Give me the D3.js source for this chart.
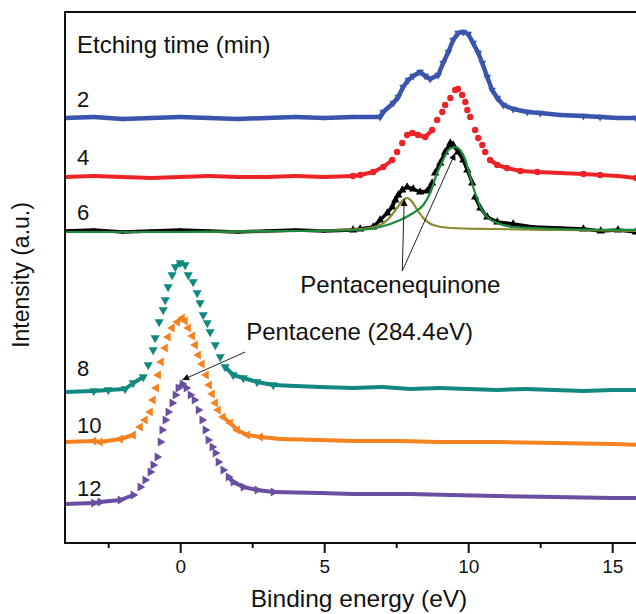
<!DOCTYPE html>
<html>
<head>
<meta charset="utf-8">
<script src="https://cdn.jsdelivr.net/npm/d3@7/dist/d3.min.js"></script>
<style>
  html, body { margin: 0; padding: 0; background: #fff; }
  svg { display: block; font-family: "Liberation Sans", Arial, Helvetica, sans-serif; }
</style>
</head>
<body>
<svg id="chart" width="636" height="614"></svg>
<script>
// ---------------- data (binding energy in eV, intensity in a.u.) ----------------
const xTicksMajor = [0, 5, 10, 15];
const xTicksMinor = [-2.5, 2.5, 7.5, 12.5];
const seriesLabels = ["2", "4", "6", "8", "10", "12"];

// 2 min (blue)
const x2 = [-4,-3,-2,-1,0,1,2,3,4,5,6,6.94,7.05,7.40,7.57,7.74,7.92,8.09,8.33,8.51,8.68,8.96,9.13,9.31,9.48,9.65,9.83,10.0,10.17,10.35,10.49,10.66,10.83,11.01,11.22,11.56,12.05,12.5,13.19,14,14.58,15.2,15.83,16];
const y2 = [425,426,424,425,426,425,424,425,426,425,426,426,431,440,446,456,463,467,471,467,464,468,480,491,503,510,511,509,500,490,480,466,453,445,438,434,431,430,428,427,426,425,425,425];
// 4 min (red)
const x4 = [-4,-3,-2,-1,0,1,2,3,4,5,6,6.25,6.7,7.05,7.36,7.53,7.71,7.88,8.06,8.26,8.51,8.75,8.92,9.1,9.2,9.38,9.55,9.65,9.79,9.9,9.97,10.07,10.24,10.35,10.49,10.59,10.76,11.01,11.35,11.81,12.4,13.19,14,14.58,15.2,15.83,16];
const y4 = [366,367,366,365,366,367,366,366,367,366,367,368,371,376,383,391,400,408,410,408,406,413,423,431,438,445,453,454,448,441,433,426,413,405,398,391,383,378,375,372,371,370,369,368,367,365,365];
// 6 min (black) measured
const x6 = [-4,-3,-2,-1,0,1,2,3,4,5,6,6.25,6.7,6.94,7.19,7.36,7.47,7.57,7.71,7.88,8.09,8.33,8.58,8.75,8.85,9.03,9.2,9.38,9.48,9.65,9.83,9.97,10.14,10.24,10.42,10.66,11.01,11.56,12.26,13.19,14,14.6,15.2,15.83,16];
const y6 = [312,313,311,312,313,312,311,312,313,312,313,314,316,323,330,336,343,348,353,356,354,351,352,360,370,380,391,400,398,391,383,373,360,346,335,326,321,319,316,315,314,312,313,311,311];
// 6 min fit components: main (green) and shoulder (olive)
const xFitMain = [-4,0,4.17,6.25,6.94,7.64,8.09,8.44,8.68,8.92,9.13,9.31,9.55,9.72,9.9,10.07,10.24,10.42,10.66,11.01,11.56,12.26,13.19,16];
const yFitMain = [311,311,312,313,316,323,330,338,350,370,383,393,396,393,383,366,350,336,326,320,316,315,314,313];
const xFitShoulder = [-4,0,4.17,6.25,6.94,7.29,7.53,7.71,7.88,8.06,8.23,8.44,8.78,9.38,10.87,13.19,16];
const yFitShoulder = [311,311,312,314,318,326,335,342,345,341,333,325,318,315,314,313,312];
// 8 min (teal)
const x8 = [-4,-3,-2.5,-1.91,-1.63,-1.28,-1.11,-0.94,-0.87,-0.73,-0.59,-0.52,-0.42,-0.28,-0.17,0,0.17,0.28,0.45,0.59,0.69,0.8,0.94,1.04,1.22,1.39,1.56,1.84,2.19,2.67,3.23,4,4.86,6,7,8,9,10,11,12,13,14,15,16];
const y8 = [151,152,153,154,160,166,178,193,205,221,233,243,256,268,276,280,278,268,261,250,240,228,220,211,198,186,176,168,165,161,158,157,156,155,156,154,155,154,153,154,153,152,153,153];
// 10 min (orange)
const x10 = [-4,-3,-2.78,-2.08,-1.63,-1.39,-1.22,-1.04,-0.94,-0.83,-0.76,-0.66,-0.52,-0.42,-0.28,-0.1,0.07,0.17,0.28,0.42,0.52,0.63,0.76,0.9,1.01,1.11,1.22,1.32,1.49,1.74,1.98,2.33,2.78,3.47,4.86,6,7.64,9,11.11,13,15,16];
const y10 = [101,102,101,104,108,116,123,131,143,155,168,181,195,206,215,221,225,222,215,207,198,188,179,168,158,149,140,133,126,120,113,108,106,104,103,102,102,101,101,100,99,98];
// 12 min (purple)
const x12 = [-4,-3,-2.78,-2.08,-1.63,-1.39,-1.22,-1.04,-0.94,-0.8,-0.69,-0.63,-0.52,-0.42,-0.28,-0.17,-0.07,0.07,0.21,0.35,0.49,0.63,0.76,0.87,0.97,1.11,1.22,1.32,1.49,1.67,1.84,2.19,2.67,3.23,4.86,6,8,9.38,11,13,15,16];
const y12 = [39,40,41,43,48,56,63,71,78,86,101,113,123,131,140,148,155,159,155,148,143,133,123,113,103,96,90,81,73,66,61,56,53,51,50,49,49,48,47,46,45,45];

// annotations (data units)
const quinoneFrom = [7.71, 272];
const quinoneTips = [[7.78, 344], [9.55, 390]];
const quinoneText = [4.17, 250];
const pentaceneFrom = [2.26, 191];
const pentaceneTip = [0.07, 163];
const pentaceneText = [2.36, 203];

// ---------------- drawing ----------------
(function () {
const svg = d3.select("#chart");
const pL = 65, pR = 641, pT = 12, pB = 543;
const x = d3.scaleLinear().domain([-4, 16]).range([pL, pR]);
const y = d3.scaleLinear().domain([0, 531]).range([pB, pT]);

const defs = svg.append("defs");
defs.append("clipPath").attr("id", "clip").append("rect")
  .attr("x", pL).attr("y", pT).attr("width", pR - pL).attr("height", pB - pT);
defs.append("marker").attr("id", "arrow")
  .attr("viewBox", "0 0 10 10").attr("refX", 10).attr("refY", 5)
  .attr("markerWidth", 10).attr("markerHeight", 7).attr("markerUnits", "userSpaceOnUse")
  .attr("orient", "auto")
  .append("path").attr("d", "M0,0 L10,5 L0,10 z").attr("fill", "#111");

// steep: flank slope (px/px) above which the dense scatter no longer merges into a band
const series = [
  { xs: x2, ys: y2, color: "#3a55ad", sym: d3.symbolTriangle, size: 26, rot: 180, label: seriesLabels[0], lab: 11, steep: 99, w: 4.5 },
  { xs: x4, ys: y4, color: "#ec2327", sym: d3.symbolCircle, size: 32, rot: 0, label: seriesLabels[1], lab: 12, steep: 1.1, w: 4 },
  { xs: x6, ys: y6, color: "#000000", sym: d3.symbolTriangle, size: 30, rot: 0, label: seriesLabels[2], lab: 11, steep: 3, w: 3.5 },
  { xs: x8, ys: y8, color: "#118880", sym: d3.symbolTriangle, size: 36, rot: 180, label: seriesLabels[3], lab: 16, steep: 1.1, w: 4 },
  { xs: x10, ys: y10, color: "#f5821f", sym: d3.symbolTriangle, size: 34, rot: -90, label: seriesLabels[4], lab: 9, steep: 1.1, w: 4 },
  { xs: x12, ys: y12, color: "#6a4ea2", sym: d3.symbolTriangle, size: 34, rot: 90, label: seriesLabels[5], lab: 8, steep: 1.1, w: 4 }
];

const plot = svg.append("g").attr("clip-path", "url(#clip)");
const line = d3.line().x(d => x(d[0])).y(d => y(d[1])).curve(d3.curveLinear);

series.forEach(s => {
  const pts = s.xs.map((v, i) => [v, s.ys[i]]);
  const segs = d3.pairs(pts).filter(([a, b]) =>
    Math.abs(y(b[1]) - y(a[1])) <= s.steep * Math.abs(x(b[0]) - x(a[0])));
  plot.append("g").selectAll("path").data(segs).join("path")
    .attr("d", line)
    .attr("fill", "none").attr("stroke", s.color).attr("stroke-width", s.w)
    .attr("stroke-linecap", "round");
  // symbols where the sampling is dense (peak region); sparse baseline points are part of the band
  const shown = pts.filter((p, i) => {
    const dl = i > 0 ? p[0] - pts[i - 1][0] : Infinity;
    const dr = i < pts.length - 1 ? pts[i + 1][0] - p[0] : Infinity;
    return Math.min(dl, dr) < 0.6;
  });
  plot.append("g").selectAll("path").data(shown).join("path")
    .attr("d", d3.symbol().type(s.sym).size(s.size))
    .attr("transform", d => `translate(${x(d[0])},${y(d[1])}) rotate(${s.rot})`)
    .attr("fill", s.color);
});

// fit curves
const fitLine = d3.line().x(d => x(d[0])).y(d => y(d[1])).curve(d3.curveMonotoneX);
plot.append("path").datum(xFitShoulder.map((v, i) => [v, yFitShoulder[i]]))
  .attr("d", fitLine).attr("fill", "none").attr("stroke", "#8a8a2e").attr("stroke-width", 2.2);
plot.append("path").datum(xFitMain.map((v, i) => [v, yFitMain[i]]))
  .attr("d", fitLine).attr("fill", "none").attr("stroke", "#1b8a3c").attr("stroke-width", 2.2);

// frame
svg.append("rect").attr("x", pL).attr("y", pT).attr("width", pR - pL).attr("height", pB - pT)
  .attr("fill", "none").attr("stroke", "#111").attr("stroke-width", 2);

// axes
const axMajor = svg.append("g").attr("transform", `translate(0,${pB})`)
  .call(d3.axisBottom(x).tickValues(xTicksMajor).tickSize(10).tickPadding(7).tickFormat(d3.format("d")));
const axMinor = svg.append("g").attr("transform", `translate(0,${pB})`)
  .call(d3.axisBottom(x).tickValues(xTicksMinor).tickSize(5).tickFormat(""));
[axMajor, axMinor].forEach(a => {
  a.select(".domain").remove();
  a.selectAll("line").attr("stroke", "#111").attr("stroke-width", 2);
  a.selectAll("text").attr("font-size", 19).attr("font-family", "Liberation Sans, Arial, sans-serif").attr("fill", "#111");
});

// axis titles
svg.append("text").attr("x", 359).attr("y", 607).attr("text-anchor", "middle")
  .attr("font-size", 24.5).attr("fill", "#111").text("Binding energy (eV)");
svg.append("text").attr("transform", "translate(29,275) rotate(-90)").attr("text-anchor", "middle")
  .attr("font-size", 23).attr("fill", "#111").text("Intensity (a.u.)");

// header and series labels
svg.append("text").attr("x", 77).attr("y", 53).attr("font-size", 24).attr("fill", "#111").text("Etching time (min)");
series.forEach(s => {
  svg.append("text").attr("x", 77).attr("y", y(s.ys[0]) - s.lab).attr("font-size", 22).attr("fill", "#111").text(s.label);
});

// annotations
quinoneTips.forEach(t => {
  svg.append("line").attr("x1", x(quinoneFrom[0])).attr("y1", y(quinoneFrom[1]))
    .attr("x2", x(t[0])).attr("y2", y(t[1])).attr("stroke", "#222").attr("stroke-width", 1)
    .attr("marker-end", "url(#arrow)");
});
svg.append("text").attr("x", x(quinoneText[0])).attr("y", y(quinoneText[1]))
  .attr("font-size", 24).attr("fill", "#111").text("Pentacenequinone");
svg.append("line").attr("x1", x(pentaceneFrom[0])).attr("y1", y(pentaceneFrom[1]))
  .attr("x2", x(pentaceneTip[0])).attr("y2", y(pentaceneTip[1])).attr("stroke", "#222").attr("stroke-width", 1)
  .attr("marker-end", "url(#arrow)");
svg.append("text").attr("x", x(pentaceneText[0]) - 2).attr("y", y(pentaceneText[1]))
  .attr("font-size", 24).attr("fill", "#111").text("Pentacene (284.4eV)");
})();
</script>
</body>
</html>
